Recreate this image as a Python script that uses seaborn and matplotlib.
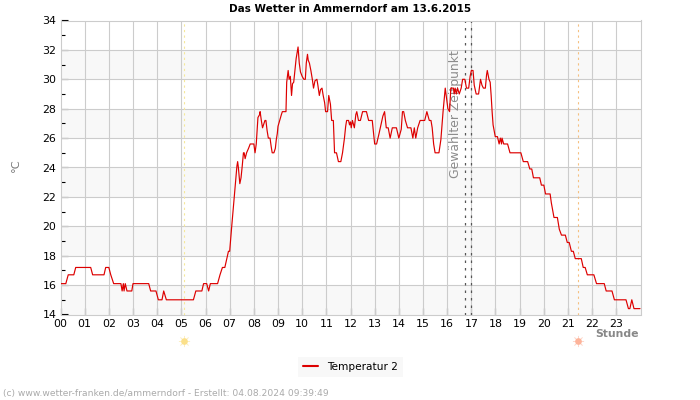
import matplotlib
matplotlib.use('Agg')
import matplotlib.pyplot as plt
import seaborn as sns
import pandas as pd

# values
hours = [0.0, 0.22, 0.32, 0.55, 0.63, 1.25, 1.33, 1.8, 1.87, 2.0, 2.08, 2.2, 2.5, 2.55, 2.6, 2.63, 2.68, 2.75, 2.95, 3.0,
         3.65, 3.73, 3.95, 4.05, 4.2, 4.27, 4.38, 5.5, 5.6, 5.85, 5.92, 6.05, 6.13, 6.2, 6.5, 6.6, 6.7, 6.8, 6.88, 6.95, 7.0,
         7.08, 7.17, 7.24, 7.3, 7.33, 7.36, 7.42, 7.47, 7.52, 7.57, 7.6, 7.64, 7.7, 7.78, 7.85, 7.92, 8.0, 8.05, 8.1,
         8.14, 8.17, 8.24, 8.26, 8.31, 8.36, 8.42, 8.46, 8.5, 8.55, 8.6, 8.67, 8.72, 8.76, 8.83, 8.89, 8.93, 8.97, 9.0,
         9.07, 9.14, 9.18, 9.33, 9.36, 9.42, 9.46, 9.51, 9.56, 9.6, 9.65, 9.71, 9.75, 9.8, 9.83, 9.88, 9.93, 10.0, 10.07,
         10.13, 10.17, 10.22, 10.25, 10.3, 10.36, 10.42, 10.47, 10.53, 10.61, 10.65, 10.71, 10.76, 10.82, 10.87, 10.93,
         10.97, 11.05, 11.1, 11.17, 11.22, 11.29, 11.34, 11.42, 11.5, 11.6, 11.67, 11.75, 11.8, 11.84, 11.92, 11.96, 12.0,
         12.03, 12.08, 12.16, 12.22, 12.26, 12.33, 12.41, 12.5, 12.66, 12.75, 12.9, 13.0, 13.08, 13.18, 13.26, 13.34,
         13.41, 13.48, 13.56, 13.64, 13.73, 13.9, 14.0, 14.1, 14.15, 14.2, 14.27, 14.36, 14.5, 14.58, 14.64, 14.7, 14.78,
         14.88, 15.07, 15.16, 15.26, 15.33, 15.38, 15.44, 15.5, 15.66, 15.74, 15.83, 15.9, 15.92, 15.96, 16.03, 16.1,
         16.15, 16.26, 16.29, 16.33, 16.38, 16.43, 16.5, 16.58, 16.64, 16.73, 16.8, 16.89, 16.95, 17.0, 17.07, 17.12,
         17.2, 17.3, 17.38, 17.44, 17.5, 17.58, 17.63, 17.66, 17.73, 17.78, 17.82, 17.86, 17.9, 17.99, 18.08, 18.15, 18.2,
         18.25, 18.27, 18.34, 18.5, 18.6, 19.05, 19.15, 19.33, 19.42, 19.5, 19.57, 19.83, 19.9, 20.0, 20.07, 20.26, 20.31,
         20.42, 20.56, 20.64, 20.73, 20.89, 20.97, 21.05, 21.14, 21.22, 21.3, 21.55, 21.63, 21.71, 21.8, 22.07, 22.18,
         22.5, 22.58, 22.82, 22.92, 23.4, 23.5, 23.56, 23.64, 23.73, 23.98]
temps = [16.1, 16.1, 16.7, 16.7, 17.2, 17.2, 16.7, 16.7, 17.2, 17.2, 16.7, 16.1, 16.1, 15.6, 16.1, 15.6, 16.1, 15.6, 15.6, 16.1,
         16.1, 15.6, 15.6, 15.0, 15.0, 15.6, 15.0, 15.0, 15.6, 15.6, 16.1, 16.1, 15.6, 16.1, 16.1, 16.7, 17.2, 17.2, 17.8, 18.3, 18.3,
         19.9, 21.6, 23.0, 24.1, 24.4, 24.0, 22.9, 23.3, 24.1, 25.0, 25.0, 24.6, 25.0, 25.3, 25.6, 25.6, 25.6, 25.0, 25.6,
         26.7, 27.4, 27.6, 27.8, 27.2, 26.7, 27.0, 27.2, 27.2, 26.5, 26.0, 26.0, 25.4, 25.0, 25.0, 25.3, 25.9, 26.3, 26.8,
         27.2, 27.6, 27.8, 27.8, 29.8, 30.6, 30.0, 30.2, 28.9, 29.7, 29.8, 30.8, 31.4, 31.9, 32.2, 31.1, 30.5, 30.2, 30.0,
         30.0, 31.1, 31.7, 31.3, 31.1, 30.6, 30.0, 29.4, 29.9, 30.0, 29.6, 28.9, 29.3, 29.4, 28.9, 28.4,
         27.8, 27.8, 28.9, 28.3, 27.2, 27.2, 25.0, 25.0, 24.4, 24.4, 25.0, 26.0, 26.8, 27.2, 27.2, 26.9, 27.1,
         26.7, 27.2, 26.7, 27.6, 27.8, 27.2, 27.2, 27.8, 27.8, 27.2, 27.2, 25.6, 25.6, 26.3, 26.9, 27.5,
         27.8, 26.7, 26.7, 26.0, 26.7, 26.7, 26.0, 26.6, 27.8, 27.8, 27.2, 26.7, 26.7, 26.0, 26.7, 26.0, 26.7,
         27.2, 27.2, 27.8, 27.2, 27.2, 26.7, 25.6, 25.0, 25.0, 25.9, 27.8, 29.0, 29.4, 28.9, 28.0, 27.8,
         29.4, 29.4, 29.0, 29.4, 29.0, 29.4, 29.0, 29.4, 30.0, 30.0, 29.4, 29.4, 30.2, 30.6, 30.6, 29.6,
         29.0, 29.0, 30.0, 29.6, 29.4, 29.4, 30.3, 30.6, 30.0, 29.8, 28.9, 27.8, 26.9, 26.1, 26.1, 25.6, 26.0,
         25.6, 26.0, 25.6, 25.6, 25.0, 25.0, 24.4, 24.4, 23.9, 23.9, 23.3, 23.3, 22.8, 22.8, 22.2, 22.2, 21.6,
         20.6, 20.6, 19.8, 19.4, 19.4, 18.9, 18.9, 18.3, 18.3, 17.8, 17.8, 17.2, 17.2, 16.7, 16.7, 16.1,
         16.1, 15.6, 15.6, 15.0, 15.0, 14.4, 14.4, 15.0, 14.4, 14.4]
hour_labels = ['%02d' % h for h in range(24)]
temp_ticks = list(range(14, 35, 2))
temp_minor = list(range(15, 34, 2))
band_starts = [14, 18, 22, 26, 30]
sunrise = 5.13
sunset = 21.43
selected = [16.72, 16.98]

df = pd.DataFrame({'Stunde': hours, 'Temperatur 2': temps})

sns.set_style('white')
plt.rcParams['font.family'] = ['DejaVu Sans']
grid_col = '#cccccc'

fig = plt.figure(figsize=(7, 4), dpi=100)
ax = fig.add_axes([60.5/700, 1-314.5/400, 580/700, 294/400])

# alternating bands and grid
for b in band_starts:
    ax.axhspan(b, b+2, color='#f8f8f8', lw=0, zorder=0)
for h in range(1, 24):
    ax.axvline(h, color=grid_col, lw=0.8, zorder=1)
for t in temp_ticks[1:-1]:
    ax.axhline(t, color=grid_col, lw=0.8, zorder=1)

ax.axvline(sunrise, color='#f5e89a', lw=0.8, ls=(0, (2, 3)), zorder=2)
ax.axvline(sunset, color='#f5c080', lw=0.8, ls=(0, (2, 3)), zorder=2)
for s in selected:
    ax.axvline(s, color='#555555', lw=0.9, ls=(0, (2, 4)), zorder=2)
ax.text(16.36, 14+(314-177)/14.7, 'Gewählter Zeitpunkt', rotation=90, ha='center', va='bottom',
        fontsize=8.9, color='#8c8c8c', zorder=2)

sns.lineplot(data=df, x='Stunde', y='Temperatur 2', ax=ax, color='#dd0000', lw=0.85,
             estimator=None, sort=False, legend=False, zorder=3)

ax.set_xlim(0, 24)
ax.set_ylim(14, 34)
ax.set_xticks(range(24))
ax.set_xticklabels(hour_labels)
ax.set_yticks(temp_ticks)
ax.set_yticks(temp_minor, minor=True)
ax.tick_params(axis='x', bottom=True, direction='in', length=5, width=0.8, color='black', labelsize=7.9, pad=3, labelcolor='black')
ax.tick_params(axis='y', which='major', left=True, direction='in', length=5, width=0.8, color='black', labelsize=7.9, pad=3, labelcolor='black')
ax.tick_params(axis='y', which='minor', left=True, direction='in', length=3, width=0.8, color='black')
ax.set_xlabel('')
ax.set_ylabel('')
for sp in ax.spines.values():
    sp.set_color(grid_col)
    sp.set_linewidth(0.8)

# sun markers below the axis
for h, col in [(sunrise, '#fbe08a'), (sunset, '#fdb39a')]:
    ax.plot([h], [-0.09], marker='o', ms=4.8, color=col, mec='none', clip_on=False,
            transform=ax.get_xaxis_transform())
    ax.plot([h], [-0.09], marker=(8, 2, 0), ms=8, mew=0.5, color=col, alpha=0.5, clip_on=False,
            transform=ax.get_xaxis_transform())

fig.text(350/700, 1-8.5/400, 'Das Wetter in Ammerndorf am 13.6.2015', ha='center', va='center',
         fontsize=7.5, fontweight='bold', color='black')
fig.text(15.5/700, 1-165/400, '°C', rotation=90, ha='center', va='center', fontsize=8.2, color='#777777')
fig.text(639/700, 1-334/400, 'Stunde', ha='right', va='center', fontsize=7.8, fontweight='bold', color='#888888')
fig.text(3/700, 1-393.5/400, '(c) www.wetter-franken.de/ammerndorf - Erstellt: 04.08.2024 09:39:49',
         ha='left', va='center', fontsize=6.6, color='#aaaaaa')

# legend
handle = plt.Line2D([], [], color='#dd0000', lw=1.5)
leg = fig.legend([handle], ['Temperatur 2'], loc='center', bbox_to_anchor=(350.5/700, 1-367/400), fontsize=7.6,
                 frameon=True, facecolor='#f8f8f8', edgecolor='none', fancybox=False, framealpha=1,
                 handlelength=1.4, handletextpad=0.9, borderpad=0.5, labelcolor='black')

fig.savefig('out.png', dpi=100)
